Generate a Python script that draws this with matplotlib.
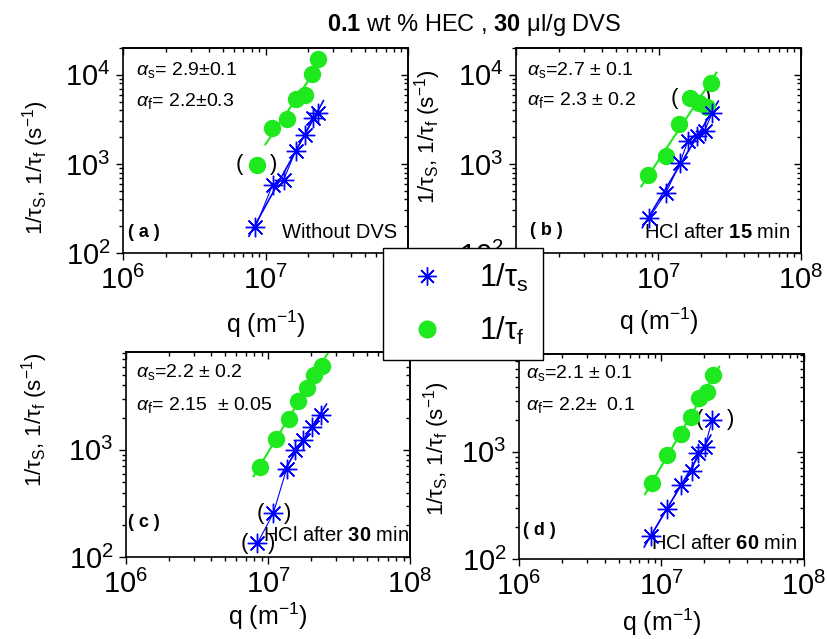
import numpy as np
import matplotlib
matplotlib.use('Agg')
import matplotlib.pyplot as plt
from matplotlib.lines import Line2D
from matplotlib.ticker import NullFormatter

plt.rcParams['font.family'] = ['Liberation Sans', 'DejaVu Sans']
plt.rcParams['mathtext.fontset'] = 'custom'
plt.rcParams['mathtext.rm'] = 'Liberation Sans'
plt.rcParams['mathtext.it'] = 'Liberation Sans:italic'
plt.rcParams['mathtext.bf'] = 'Liberation Sans:bold'
plt.rcParams['mathtext.sf'] = 'Liberation Sans'

# ---------------- data ----------------
# panel (a) without DVS
q_s_a = [8.5e6, 1.12e7, 1.34e7, 1.63e7, 1.88e7, 2.14e7, 2.32e7]
rate_s_a = [195, 581, 661, 1410, 2118, 3260, 3715]
q_f_a = [8.65e6, 1.11e7, 1.41e7, 1.63e7, 1.88e7, 2.13e7, 2.34e7]
rate_f_a = [975, 2520, 3200, 5370, 5860, 10250, 15100]
excl_s_a = []
excl_f_a = [0]

# panel (b) HCl after 15 min
q_s_b = [8.55e6, 1.13e7, 1.41e7, 1.61e7, 1.85e7, 2.11e7, 2.39e7]
rate_s_b = [245, 476, 1018, 1813, 2063, 2368, 3770]
q_f_b = [8.41e6, 1.12e7, 1.39e7, 1.66e7, 1.92e7, 2.18e7, 2.32e7]
rate_f_b = [752, 1230, 2810, 5470, 4810, 4400, 8190]
excl_s_b = []
excl_f_b = [3, 4, 5]

# panel (c) HCl after 30 min
q_s_c = [8.41e6, 1.09e7, 1.35e7, 1.55e7, 1.77e7, 2.03e7, 2.35e7]
rate_s_c = [134, 256, 660, 1000, 1240, 1650, 2125]
q_f_c = [8.79e6, 1.13e7, 1.40e7, 1.62e7, 1.87e7, 2.11e7, 2.39e7]
rate_f_c = [698, 1260, 1935, 2870, 3820, 5020, 6100]
excl_s_c = [0, 1]
excl_f_c = []

# panel (d) HCl after 60 min
q_s_d = [8.4e6, 1.09e7, 1.37e7, 1.63e7, 1.80e7, 2.02e7, 2.27e7]
rate_s_d = [164, 293, 492, 669, 985, 1122, 1990]
q_f_d = [8.53e6, 1.10e7, 1.37e7, 1.61e7, 1.84e7, 2.08e7, 2.31e7]
rate_f_d = [517, 937, 1463, 2138, 3175, 3660, 5250]
excl_s_d = [6]
excl_f_d = []

panel_letters = ['( a )', '( b )', '( c )', '( d )']
panel_notes = ['Without DVS', r'HCl after $\mathbf{15}$ min',
               r'HCl after $\mathbf{30}$ min', r'HCl after $\mathbf{60}$ min']
alpha_s_text = [r'$\alpha_\mathrm{s}$= 2.9$\pm$0.1', r'$\alpha_\mathrm{s}$=2.7 $\pm$ 0.1',
                r'$\alpha_\mathrm{s}$=2.2 $\pm$ 0.2', r'$\alpha_\mathrm{s}$=2.1 $\pm$ 0.1']
alpha_f_text = [r'$\alpha_\mathrm{f}$= 2.2$\pm$0.3', r'$\alpha_\mathrm{f}$= 2.3 $\pm$ 0.2',
                r'$\alpha_\mathrm{f}$= 2.15  $\pm$ 0.05', r'$\alpha_\mathrm{f}$= 2.2$\pm$  0.1']
y_label_text = r'$1/\mathrm{\tau_S}$, $1/\mathrm{\tau_f}$ (s$^{-1}$)'
x_label_text = r'q (m$^{-1}$)'
y_top = [2e4, 2e4, 8.2e3, 8.2e3]

BLUE = '#0000ff'
GREEN = '#1ee81e'

W, H = 828, 639
fig = plt.figure(figsize=(W / 100, H / 100), dpi=100)

# axes boxes in pixels: left, top, right, bottom
boxes = [(123, 48, 408, 253), (516, 48, 801, 253),
         (126, 352, 410, 557), (519, 354, 804, 559)]

panels = [
    (q_s_a, rate_s_a, q_f_a, rate_f_a, excl_s_a, excl_f_a),
    (q_s_b, rate_s_b, q_f_b, rate_f_b, excl_s_b, excl_f_b),
    (q_s_c, rate_s_c, q_f_c, rate_f_c, excl_s_c, excl_f_c),
    (q_s_d, rate_s_d, q_f_d, rate_f_d, excl_s_d, excl_f_d),
]

# text placements (axes fraction)
alpha_pos = [(0.046, 0.893, 0.741), (0.039, 0.895, 0.745),
             (0.035, 0.902, 0.741), (0.025, 0.907, 0.751)]
letter_pos = [(0.018, 0.102), (0.049, 0.112), (0.007, 0.166), (0.014, 0.141)]
note_pos = [(0.961, 0.098), (0.961, 0.098), (0.997, 0.107), (0.975, 0.078)]
ylabel_pos = [(-0.253, 0.415), (-0.256, 0.566), (-0.268, 0.668), (-0.235, 0.537)]
xlabel_pos = [(0.5, -0.27), (0.5, -0.255), (0.5, -0.215), (0.5, -0.23)]


def fit_line(q, r, excl):
    q = np.asarray(q, float)
    r = np.asarray(r, float)
    keep = np.array([i not in excl for i in range(len(q))])
    c = np.polyfit(np.log10(q[keep]), np.log10(r[keep]), 1)
    qq = np.array([0.9 * q[keep].min(), 1.1 * q[keep].max()])
    return qq, 10 ** np.polyval(c, np.log10(qq))


star_marker = (8, 2, 0)
axes = []
for i, (box, data) in enumerate(zip(boxes, panels)):
    l, t, r, b = box
    ax = fig.add_axes([l / W, 1 - b / H, (r - l) / W, (b - t) / H])
    axes.append(ax)
    qs, rs, qf, rf, es, ef = data
    ax.set_xscale('log')
    ax.set_yscale('log')

    # fit lines
    xx, yy = fit_line(qf, rf, ef)
    ax.plot(xx, yy, color=GREEN, lw=1.5, zorder=2)
    xx, yy = fit_line(qs, rs, es)
    ax.plot(xx, yy, color=BLUE, lw=1.2, zorder=3)
    # connecting line for stars
    ax.plot(qs, rs, color=BLUE, lw=0.8, zorder=3)

    ax.plot(qf, rf, ls='none', marker='o', ms=11.5, color=GREEN, mec=GREEN, zorder=4)
    ax.plot(qs, rs, ls='none', marker=star_marker, ms=14, mew=1.0, color=BLUE, zorder=5)
    ax.plot(qs, rs, ls='none', marker='o', ms=3, color=BLUE, zorder=5)

    # parentheses around excluded points
    if i == 0:
        for k in ef:
            ax.annotate('(', (qf[k], rf[k]), xytext=(-12, 0), textcoords='offset points',
                        ha='center', va='center', fontsize=16)
            ax.annotate(')', (qf[k], rf[k]), xytext=(12, 0), textcoords='offset points',
                        ha='center', va='center', fontsize=16)
    elif i == 1:
        ax.annotate('(', (qf[ef[0]], rf[ef[0]]), xytext=(-11, 0), textcoords='offset points',
                    ha='center', va='center', fontsize=16)
        ax.annotate(')', (qf[ef[1]], rf[ef[1]]), xytext=(6, 4), textcoords='offset points',
                    ha='center', va='center', fontsize=16)
    else:
        for k in es:
            ax.annotate('(', (qs[k], rs[k]), xytext=(-9, 0), textcoords='offset points',
                        ha='center', va='center', fontsize=16)
            ax.annotate(')', (qs[k], rs[k]), xytext=(10 if i == 2 else 13, 0),
                        textcoords='offset points', ha='center', va='center', fontsize=16)

    ax.set_xlim(1e6, 1e8)
    ax.set_ylim(100, y_top[i])
    ax.yaxis.set_minor_formatter(NullFormatter())
    ax.xaxis.set_minor_formatter(NullFormatter())

    for sp in ax.spines.values():
        sp.set_linewidth(1.2)
    ax.tick_params(which='both', top=False, right=False, direction='out',
                   labelsize=21, width=1.0)
    ax.tick_params(which='major', length=5, pad=4)
    ax.tick_params(which='minor', length=3)

    secx = ax.secondary_xaxis('top')
    secx.tick_params(which='both', direction='in', labeltop=False, width=1.0)
    secx.tick_params(which='major', length=5)
    secx.tick_params(which='minor', length=3)
    secx.spines['top'].set_linewidth(1.2)
    secy = ax.secondary_yaxis('right')
    secy.tick_params(which='both', direction='in', labelright=False, width=1.0)
    secy.tick_params(which='major', length=5)
    secy.tick_params(which='minor', length=3)
    secy.spines['right'].set_linewidth(1.2)

    # axis titles
    yx, yy_ = ylabel_pos[i]
    ax.text(yx, yy_, y_label_text, transform=ax.transAxes, fontsize=16,
            rotation=90, ha='right', va='center')
    xx_, xy_ = xlabel_pos[i]
    ax.text(xx_, xy_, x_label_text, transform=ax.transAxes, fontsize=18,
            ha='center', va='top')

    ax_, ys_, yf_ = alpha_pos[i]
    ax.text(ax_, ys_, alpha_s_text[i], transform=ax.transAxes, fontsize=14,
            ha='left', va='center')
    ax.text(ax_, yf_, alpha_f_text[i], transform=ax.transAxes, fontsize=14,
            ha='left', va='center')
    ax.text(*letter_pos[i], panel_letters[i], transform=ax.transAxes, fontsize=13,
            fontweight='bold', ha='left', va='center')
    ax.text(*note_pos[i], panel_notes[i], transform=ax.transAxes, fontsize=14.5,
            ha='right', va='center')

fig.text(474 / W, 1 - 25 / H, r'$\mathbf{0.1}$ wt % HEC , $\mathbf{30}$ μl/g DVS',
         ha='center', va='center', fontsize=17)

h_star = Line2D([], [], ls='none', marker=star_marker, ms=13, mew=1.0, color=BLUE)
h_dot = Line2D([], [], ls='none', marker='o', ms=3, color=BLUE)
h_circ = Line2D([], [], ls='none', marker='o', ms=12, color=GREEN)
leg = fig.legend([(h_star, h_dot), h_circ],
                 [r'$1/\mathrm{\tau_s}$', r'$1/\mathrm{\tau_f}$'],
                 loc='upper left', bbox_to_anchor=(383 / W, 1 - 248 / H),
                 bbox_transform=fig.transFigure, fontsize=22, frameon=True,
                 fancybox=False, edgecolor='black', framealpha=1,
                 borderpad=0.45, handlelength=2.0, handletextpad=0.7,
                 labelspacing=0.68, borderaxespad=0)
leg.get_frame().set_linewidth(1.0)
leg.set_zorder(20)

fig.savefig('out.png', dpi=100)
